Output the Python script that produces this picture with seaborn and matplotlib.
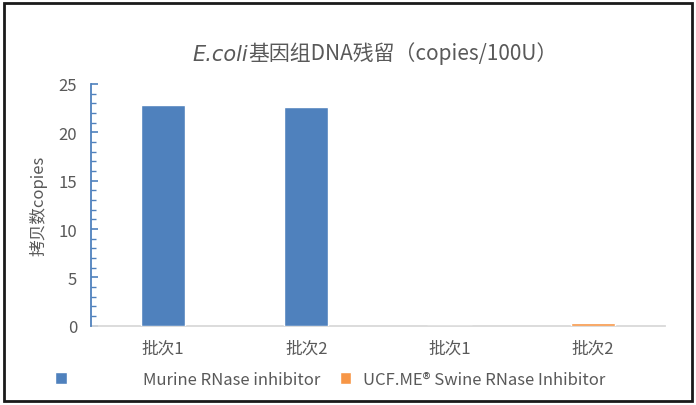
import pandas as pd
import matplotlib
matplotlib.use('Agg')
import matplotlib.pyplot as plt
import seaborn as sns
from matplotlib.patches import Patch, Rectangle
from matplotlib.ticker import MultipleLocator

# Data
batch_labels = ['批次1', '批次2', '批次1', '批次2']
series_names = ['Murine RNase inhibitor', 'Murine RNase inhibitor',
                'UCF.ME® Swine RNase Inhibitor', 'UCF.ME® Swine RNase Inhibitor']
copies = [22.8, 22.6, 0.0, 0.25]

series_order = ['Murine RNase inhibitor', 'UCF.ME® Swine RNase Inhibitor']
colors = ['#4F81BD', '#F79646']

sns.set_style('white')
plt.rcParams['font.family'] = ['Noto Sans CJK SC', 'DejaVu Sans']
plt.rcParams['ytick.direction'] = 'in'
plt.rcParams['ytick.minor.visible'] = True

df = pd.DataFrame({
    'slot': [f's{i}' for i in range(len(copies))],
    'series': series_names,
    'copies': copies,
})

fig = plt.figure(figsize=(6.96, 4.06), dpi=100)
ax = fig.add_axes([0.131, 0.195, 0.824, 0.596])

sns.barplot(data=df, x='slot', y='copies', hue='series', hue_order=series_order,
            palette=colors, dodge=False, width=0.31, saturation=1, ax=ax, legend=False,
            zorder=3)

ax.set_xlim(-0.5, 3.5)
ax.set_ylim(0, 25)
ax.yaxis.set_major_locator(MultipleLocator(5))
ax.yaxis.set_minor_locator(MultipleLocator(1))
ax.xaxis.set_minor_locator(plt.NullLocator())
ax.set_xticks(range(len(batch_labels)))
ax.set_xticklabels(batch_labels)
ax.tick_params(axis='x', length=0, pad=10, labelsize=12, labelcolor='#595959')
ax.tick_params(axis='y', which='major', direction='in', length=5, width=1.2,
               color='#4F81BD', labelsize=12, labelcolor='#595959', pad=10, left=True)
ax.tick_params(axis='y', which='minor', direction='in', length=3.5, width=1,
               color='#4F81BD', left=True)

for s in ['top', 'right']:
    ax.spines[s].set_visible(False)
ax.spines['left'].set_color('#4F81BD')
ax.spines['left'].set_linewidth(1.3)
ax.spines['bottom'].set_color('#D9D9D9')
ax.spines['bottom'].set_linewidth(1.3)
ax.spines['bottom'].set_zorder(1)

ax.set_xlabel('')
ax.set_ylabel('拷贝数copies', fontsize=12, color='#595959', labelpad=8)

# title: italic species name followed by the rest
t1 = fig.text(0.277, 0.85, 'E.coli', fontsize=15, style='italic',
              family=['DejaVu Sans'], color='#595959', va='baseline')
ax.annotate('基因组DNA残留（copies/100U）', xy=(1, 0), xycoords=t1,
            fontsize=15, color='#595959', va='bottom', ha='left',
            annotation_clip=False)

# legend
h1 = [Patch(facecolor=colors[0])]
h2 = [Patch(facecolor=colors[1])]
leg1 = fig.legend(h1, [series_order[0]], loc='center left', bbox_to_anchor=(0.079, 0.064),
                  frameon=False, fontsize=12, handlelength=0.7, handleheight=0.7,
                  handletextpad=4.6, borderaxespad=0, borderpad=0)
for t in leg1.get_texts():
    t.set_color('#595959')
leg2 = fig.legend(h2, [series_order[1]], loc='center left', bbox_to_anchor=(0.488, 0.064),
                  frameon=False, fontsize=12, handlelength=0.7, handleheight=0.7,
                  handletextpad=0.7, borderaxespad=0, borderpad=0)
for t in leg2.get_texts():
    t.set_color('#595959')

# outer frame
fig.patches.append(Rectangle((0.006, 0.009), 0.988, 0.981, transform=fig.transFigure,
                             fill=False, edgecolor='#1a1a1a', linewidth=2))

fig.savefig('out.png', dpi=100)
